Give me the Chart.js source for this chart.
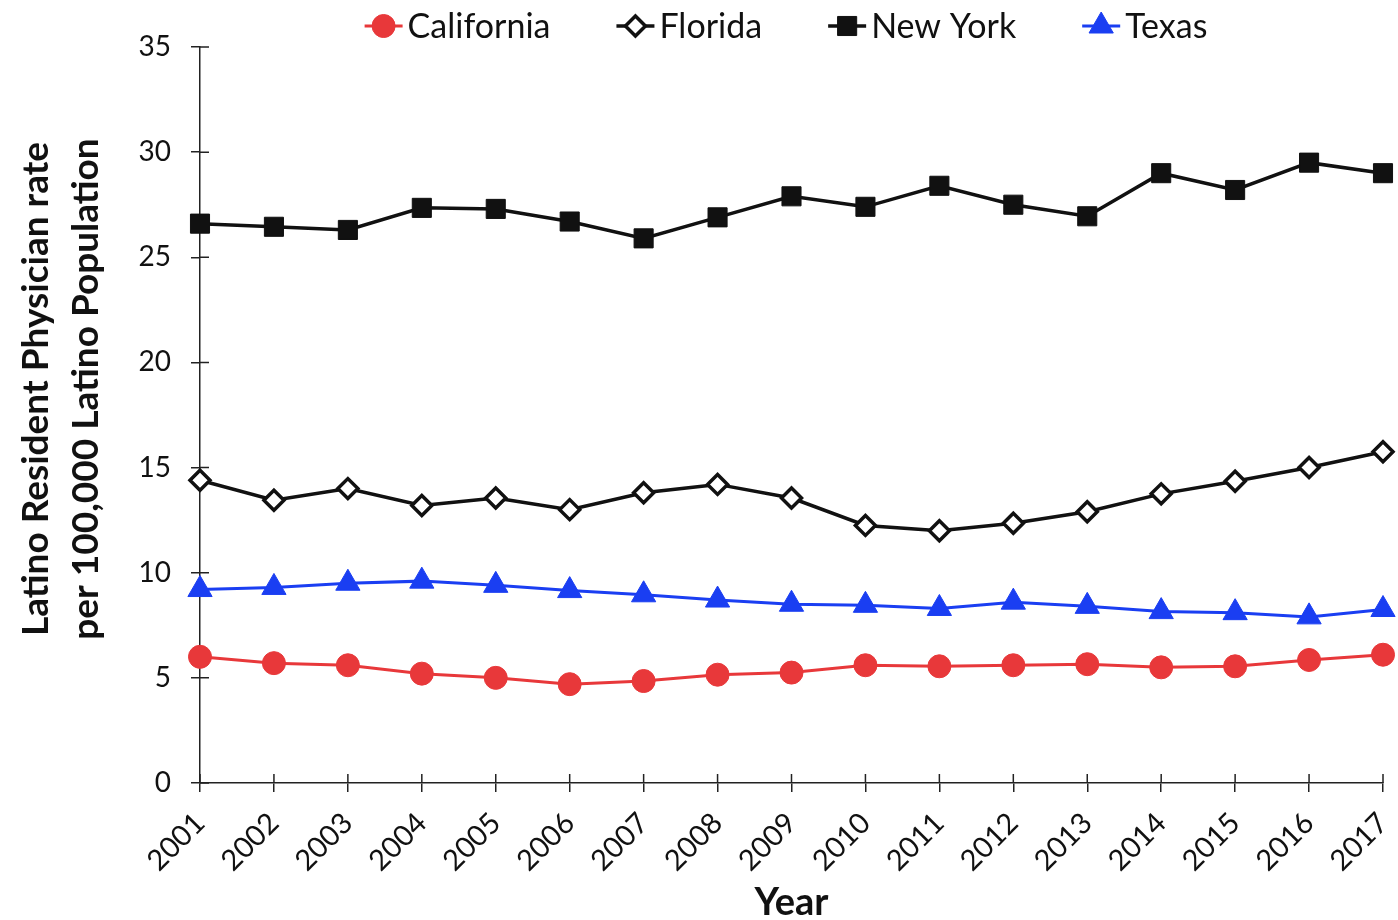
<!DOCTYPE html>
<html>
<head>
<meta charset="utf-8">
<script src="https://cdn.jsdelivr.net/npm/chart.js@4.4.1/dist/chart.umd.min.js"></script>
<style>
  html, body { margin: 0; padding: 0; background: #fff; }
  #wrap { width: 1398px; height: 920px; }
</style>
</head>
<body>
<div id="wrap"><canvas id="grafico"></canvas></div>
<script>
// valores (taxa por 100.000 habitantes latinos)
const anos = ['2001', '2002', '2003', '2004', '2005', '2006', '2007', '2008', '2009',
              '2010', '2011', '2012', '2013', '2014', '2015', '2016', '2017'];
const california = [6.0, 5.7, 5.6, 5.2, 5.0, 4.7, 4.85, 5.15, 5.25, 5.6, 5.55, 5.6, 5.65, 5.5, 5.55, 5.85, 6.1];
const florida = [14.4, 13.45, 14.0, 13.2, 13.55, 13.0, 13.8, 14.2, 13.55, 12.25, 12.0, 12.35, 12.9, 13.75, 14.35, 15.0, 15.75];
const novaYork = [26.6, 26.45, 26.3, 27.35, 27.3, 26.7, 25.9, 26.9, 27.9, 27.4, 28.4, 27.5, 26.95, 29.0, 28.2, 29.5, 29.0];
const texas = [9.2, 9.3, 9.5, 9.6, 9.4, 9.15, 8.95, 8.7, 8.5, 8.45, 8.3, 8.6, 8.4, 8.15, 8.1, 7.9, 8.25];
const ticksY = [0, 5, 10, 15, 20, 25, 30, 35];
const tituloY = ['Latino Resident Physician rate', 'per 100,000 Latino Population'];

const FONTE = 'Lato, "Open Sans", sans-serif';
const COR_EIXO = '#222';

// legenda desenhada à mão: linha + marcador + texto, como no original
const legendaManual = {
    id: 'legendaManual',
    afterDraw(chart) {
        const ctx = chart.ctx;
        const itens = chart.data.datasets;
        const linha = 38, gapTexto = 5, gapItem = 66, yMeio = 26;
        ctx.save();
        ctx.font = '34px ' + FONTE;
        const larguras = itens.map(ds => linha + gapTexto + ctx.measureText(ds.label).width);
        const total = larguras.reduce((a, b) => a + b, 0) + gapItem * (itens.length - 1);
        let x = 786 - total / 2;
        itens.forEach((ds, i) => {
            ctx.strokeStyle = ds.borderColor;
            ctx.lineWidth = ds.borderWidth;
            ctx.beginPath();
            ctx.moveTo(x, yMeio);
            ctx.lineTo(x + linha, yMeio);
            ctx.stroke();
            ctx.fillStyle = ds.pointBackgroundColor;
            ctx.strokeStyle = ds.pointBorderColor;
            ctx.lineWidth = ds.pointBorderWidth;
            Chart.helpers.drawPoint(ctx, {
                pointStyle: ds.pointStyle, radius: ds.pointRadius, rotation: 0,
                borderWidth: ds.pointBorderWidth
            }, x + linha / 2, yMeio);
            ctx.fillStyle = '#111';
            ctx.textBaseline = 'middle';
            ctx.textAlign = 'left';
            ctx.fillText(ds.label, x + linha + gapTexto, yMeio + 1);
            x += larguras[i] + gapItem;
        });
        ctx.restore();
    }
};

// título do eixo Y em duas linhas, um pouco acima do centro como no original
const tituloEixoY = {
    id: 'tituloEixoY',
    afterDraw(chart) {
        const ctx = chart.ctx;
        const ca = chart.chartArea;
        const yc = (ca.top + ca.bottom) / 2 - 26;
        ctx.save();
        ctx.font = 'bold 37px ' + FONTE;
        ctx.fillStyle = '#111';
        ctx.textAlign = 'center';
        ctx.textBaseline = 'middle';
        tituloY.forEach((txt, i) => {
            ctx.save();
            ctx.translate(36 + i * 50, yc);
            ctx.rotate(-Math.PI / 2);
            ctx.fillText(txt, 0, 0);
            ctx.restore();
        });
        ctx.restore();
    }
};

// marcas de escala que cruzam o eixo (parte interna)
const marcasInternas = {
    id: 'marcasInternas',
    afterDatasetsDraw(chart) {
        const ctx = chart.ctx;
        const sx = chart.scales.x, sy = chart.scales.y;
        const L = 9;
        ctx.save();
        ctx.strokeStyle = COR_EIXO;
        ctx.lineWidth = 1.5;
        ctx.beginPath();
        sy.ticks.forEach((t, i) => {
            const y = sy.getPixelForTick(i);
            ctx.moveTo(sx.left, y);
            ctx.lineTo(sx.left + L, y);
        });
        sx.ticks.forEach((t, i) => {
            const x = sx.getPixelForTick(i);
            ctx.moveTo(x, sy.bottom);
            ctx.lineTo(x, sy.bottom - L);
        });
        ctx.stroke();
        ctx.restore();
    }
};

function serie(nome, dados, cor, estilo, raio, fundo, largura) {
    return {
        label: nome,
        data: dados,
        borderColor: cor,
        borderWidth: largura,
        pointStyle: estilo,
        pointRadius: raio,
        pointHoverRadius: raio,
        pointBackgroundColor: fundo,
        pointBorderColor: cor,
        pointBorderWidth: estilo === 'rectRot' ? 3.5 : 1,
        tension: 0,
        fill: false
    };
}

window.addEventListener('DOMContentLoaded', () => {
    const ctx = document.getElementById('grafico').getContext('2d');
    new Chart(ctx, {
        type: 'line',
        data: {
            labels: anos,
            datasets: [
                serie('California', california, '#e8383a', 'circle', 11.5, '#e8383a', 3),
                serie('Florida', florida, '#111', 'rectRot', 10, '#fff', 3.5),
                serie('New York', novaYork, '#111', 'rect', 13.5, '#111', 3.5),
                serie('Texas', texas, '#1a3ef2', 'triangle', 14, '#1a3ef2', 3)
            ]
        },
        options: {
            responsive: true,
            maintainAspectRatio: false,
            animation: false,
            layout: { padding: { top: 47, right: 11, left: 0, bottom: 0 } },
            plugins: {
                legend: { display: false },
                tooltip: { enabled: false }
            },
            scales: {
                x: {
                    offset: false,
                    border: { color: COR_EIXO, width: 1.5 },
                    grid: { drawOnChartArea: false, drawTicks: true, tickLength: 9, color: COR_EIXO, lineWidth: 1.5 },
                    ticks: {
                        color: '#111', font: { family: FONTE, size: 29 },
                        minRotation: 45, maxRotation: 45, autoSkip: false, padding: 14
                    },
                    title: {
                        display: true, text: 'Year', color: '#111',
                        font: { family: FONTE, size: 38, weight: 'bold', lineHeight: 1 },
                        padding: { top: 0, bottom: -2 }
                    },
                    afterFit(scale) {
                        scale.height = 137;
                        scale.paddingLeft = 0;
                        scale.paddingRight = 0;
                    }
                },
                y: {
                    min: 0, max: 35,
                    border: { color: COR_EIXO, width: 1.5 },
                    grid: { drawOnChartArea: false, drawTicks: true, tickLength: 9, color: COR_EIXO, lineWidth: 1.5 },
                    afterBuildTicks(scale) {
                        scale.ticks = ticksY.map(v => ({ value: v }));
                    },
                    ticks: {
                        color: '#111', font: { family: FONTE, size: 28 }, padding: 20
                    },
                    afterFit(scale) {
                        scale.width = 200;
                        scale.paddingTop = 0;
                        scale.paddingBottom = 0;
                    }
                }
            }
        },
        plugins: [legendaManual, tituloEixoY, marcasInternas]
    });
});
</script>
</body>
</html>
